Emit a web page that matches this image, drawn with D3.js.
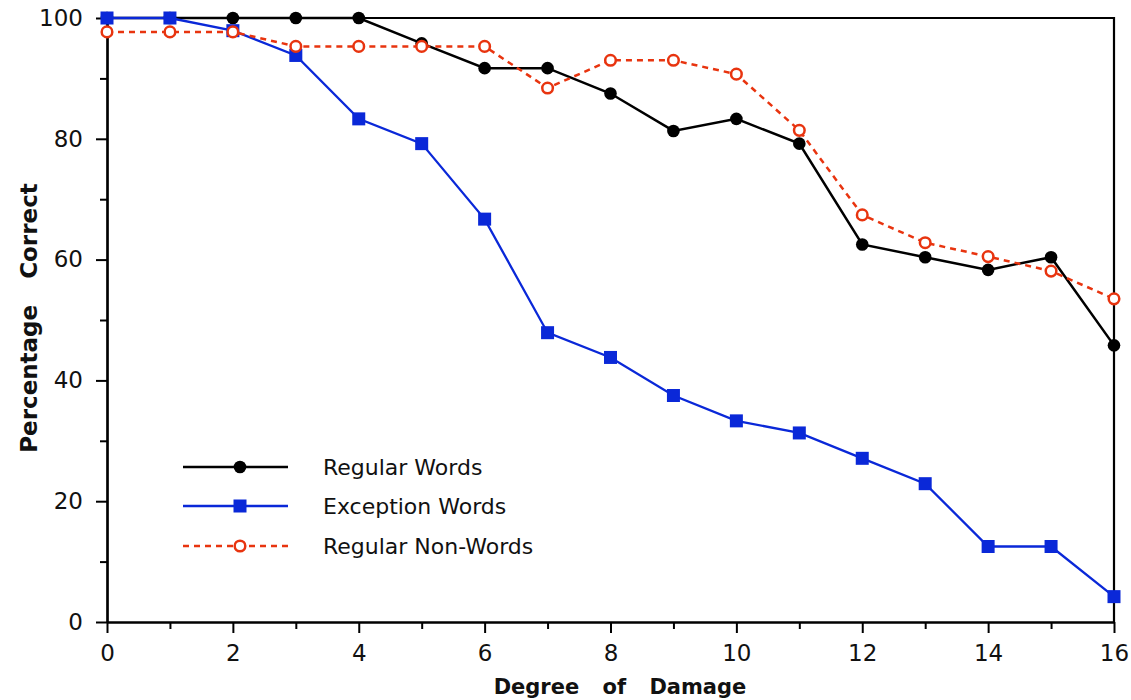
<!DOCTYPE html>
<html><head><meta charset="utf-8">
<script src="https://cdn.jsdelivr.net/npm/d3@7"></script>
<style>
body{margin:0;background:#fff}
svg text{font-family:"DejaVu Sans",sans-serif;fill:#111}
</style>
</head><body>
<svg id="chart" width="1131" height="700"></svg>
<script>
// ---- data ----
const damage = [0,1,2,3,4,5,6,7,8,9,10,11,12,13,14,15,16];
const regularWords    = [100,100,100,100,100,95.8,91.7,91.7,87.5,81.3,83.3,79.2,62.5,60.4,58.3,60.4,45.8];
const exceptionWords  = [100,100,97.9,93.8,83.3,79.2,66.7,47.9,43.8,37.5,33.3,31.3,27.1,22.9,12.5,12.5,4.2];
const regularNonWords = [97.7,97.7,97.7,95.3,95.3,95.3,95.3,88.4,93.0,93.0,90.7,81.4,67.4,62.8,60.5,58.1,53.5];
const seriesNames = ["Regular Words","Exception Words","Regular Non-Words"];
const xTickLabels = [0,2,4,6,8,10,12,14,16];
const xMinorTicks = [1,3,5,7,9,11,13,15];
const yTickLabels = [0,20,40,60,80,100];
const yMinorTicks = [10,30,50,70,90];
const xTitle = "Degree of Damage";
const yTitle = "Percentage Correct";

// ---- layout ----
const L = 107, R = 1114, T = 18, B = 622;
const svg = d3.select("#chart");
const x = d3.scaleLinear().domain([0,16]).range([L,R]);
const y = d3.scaleLinear().domain([0,100]).range([B,T]);

// frame (top/right)
svg.append("path")
  .attr("d", `M${L},${T}H${R}V${B}`)
  .attr("fill","none").attr("stroke","#000").attr("stroke-width",2.2);

function styleAxis(g){
  g.select(".domain").attr("stroke","#000").attr("stroke-width",2.2);
  g.selectAll(".tick line").attr("stroke","#000").attr("stroke-width",2);
  g.selectAll(".tick text").attr("font-size",23).attr("font-family","DejaVu Sans").attr("fill","#111");
}
// minor ticks
svg.append("g").attr("transform",`translate(${L},0)`)
  .call(d3.axisLeft(y).tickValues(yMinorTicks).tickSize(7).tickSizeOuter(0).tickFormat(""))
  .call(styleAxis);
svg.append("g").attr("transform",`translate(0,${B})`)
  .call(d3.axisBottom(x).tickValues(xMinorTicks).tickSize(7).tickSizeOuter(0).tickFormat(""))
  .call(styleAxis);
// major ticks
svg.append("g").attr("transform",`translate(${L},0)`)
  .call(d3.axisLeft(y).tickValues(yTickLabels).tickSize(11).tickPadding(13).tickSizeOuter(0).tickFormat(d3.format("d")))
  .call(styleAxis);
svg.append("g").attr("transform",`translate(0,${B})`)
  .call(d3.axisBottom(x).tickValues(xTickLabels).tickSize(11).tickPadding(12).tickSizeOuter(0).tickFormat(d3.format("d")))
  .call(styleAxis);

// axis titles
svg.append("text").attr("x",620).attr("y",694).attr("text-anchor","middle")
  .attr("font-size",21).attr("font-weight","bold").style("word-spacing","16px").text(xTitle);
svg.append("text").attr("transform","translate(37,318) rotate(-90)").attr("text-anchor","middle")
  .attr("font-size",23).attr("font-weight","bold").style("word-spacing","18px").text(yTitle);

// series
const colors = ["#000000","#0a28d8","#e8340f"];
const seriesData = [regularWords, exceptionWords, regularNonWords];
const line = d3.line().x((d,i)=>x(damage[i])).y(d=>y(d));

function drawMarker(g, k, cx, cy){
  if(k===0){
    g.append("circle").attr("cx",cx).attr("cy",cy).attr("r",6.3).attr("fill","#000");
  } else if(k===1){
    g.append("rect").attr("x",cx-6.5).attr("y",cy-6.5).attr("width",13).attr("height",13).attr("fill",colors[1]);
  } else {
    g.append("circle").attr("cx",cx).attr("cy",cy).attr("r",5.3).attr("fill","#fff")
      .attr("stroke",colors[2]).attr("stroke-width",2.5);
  }
}
const lineWidths = [2.5,2.3,2.5];
seriesData.forEach((vals,k)=>{
  const g = svg.append("g");
  g.append("path").datum(vals).attr("d",line).attr("fill","none")
    .attr("stroke",colors[k]).attr("stroke-width",lineWidths[k])
    .attr("stroke-dasharray", k===2 ? "6,5" : null);
  vals.forEach((v,i)=>drawMarker(g,k,x(damage[i]),y(v)));
});

// legend
const legY = [467,506,546];
seriesNames.forEach((name,k)=>{
  const g = svg.append("g");
  g.append("line").attr("x1",183).attr("x2",288).attr("y1",legY[k]).attr("y2",legY[k])
    .attr("stroke",colors[k]).attr("stroke-width",lineWidths[k])
    .attr("stroke-dasharray", k===2 ? "6,5" : null);
  drawMarker(g,k,240,legY[k]);
  g.append("text").attr("x",323).attr("y",legY[k]).attr("dy","0.36em")
    .attr("font-size",22).text(name);
});
</script>
</body></html>
